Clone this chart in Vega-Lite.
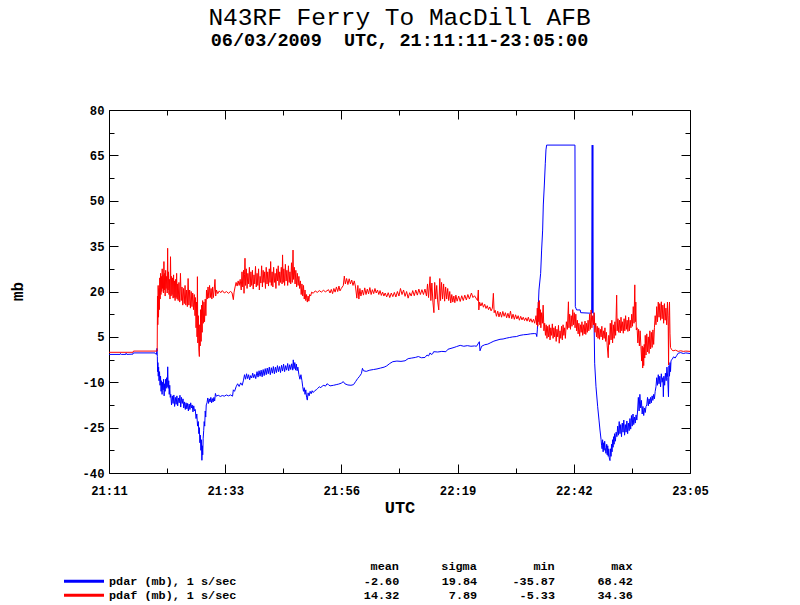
{
  "$schema": "https://vega.github.io/schema/vega-lite/v6.json",
  "width": 581,
  "height": 363,
  "autosize": {"type": "none"},
  "padding": {"left": 109, "top": 110, "right": 110, "bottom": 132},
  "background": "white",
  "title": {
    "text": "N43RF Ferry To MacDill AFB",
    "subtitle": "06/03/2009\u00a0\u00a0UTC, 21:11:11-23:05:00",
    "anchor": "middle",
    "font": "Liberation Mono",
    "fontSize": 24.5,
    "fontWeight": "normal",
    "color": "black",
    "subtitleFont": "Liberation Mono",
    "subtitleFontSize": 18.5,
    "subtitleFontWeight": "bold",
    "subtitleColor": "black",
    "subtitlePadding": 0,
    "offset": 54
  },
  "datasets": {
    "pdar": [
      {"t":0,"v":-0.8},{"t":2.2,"v":-0.8},{"t":2.25,"v":-0.5},{"t":2.4,"v":-0.8},{"t":3.3,"v":-0.8},{"t":3.35,"v":-0.4},{"t":3.5,"v":-0.8},{"t":4.7,"v":-0.7},{"t":4.75,"v":-0.3},{"t":9,"v":-0.3},{"t":9.1,"v":-0.6},{"t":9.3,"v":-0.8},{"t":9.4,"v":1.2},{"t":9.47,"v":-1.5},{"t":9.52,"v":-6.5},{"t":9.58,"v":-3.5},{"t":9.65,"v":-8},{"t":9.72,"v":-5},{"t":9.8,"v":-9.5},{"t":9.9,"v":-6.5},
      {"t":10,"v":-11},{"t":10.1,"v":-8},{"t":10.2,"v":-13},{"t":10.3,"v":-9.5},{"t":10.4,"v":-14},{"t":10.5,"v":-10},{"t":10.6,"v":-12.5},{"t":10.7,"v":-9},{"t":10.8,"v":-14.5},{"t":10.9,"v":-10.5},{"t":11,"v":-13},{"t":11.1,"v":-9},{"t":11.2,"v":-12},{"t":11.3,"v":-8.5},{"t":11.4,"v":-11.5},{"t":11.5,"v":-4.9},{"t":11.6,"v":-12},{"t":11.7,"v":-9.5},{"t":11.8,"v":-14},{"t":11.9,"v":-11},{"t":12,"v":-15},
      {"t":12.1,"v":-14},{"t":12.25,"v":-17.5},{"t":12.4,"v":-14.5},{"t":12.55,"v":-17},{"t":12.7,"v":-14.2},{"t":12.85,"v":-18},{"t":13,"v":-15},{"t":13.15,"v":-17.3},{"t":13.3,"v":-14.5},{"t":13.45,"v":-17.8},{"t":13.6,"v":-15.2},{"t":13.75,"v":-16.8},{"t":13.9,"v":-14.3},{"t":14.05,"v":-18.2},{"t":14.2,"v":-15},{"t":14.35,"v":-17},{"t":14.5,"v":-15.5},
      {"t":14.65,"v":-18.5},{"t":14.8,"v":-16.5},{"t":14.95,"v":-19},{"t":15.1,"v":-16.8},{"t":15.25,"v":-18.8},{"t":15.4,"v":-17},{"t":15.55,"v":-19.5},{"t":15.7,"v":-17.2},{"t":15.85,"v":-19},{"t":16,"v":-16.8},{"t":16.15,"v":-18.5},{"t":16.3,"v":-17.5},{"t":16.45,"v":-19.8},{"t":16.6,"v":-17.8},{"t":16.75,"v":-19.5},
      {"t":16.9,"v":-19},{"t":17.05,"v":-22},{"t":17.2,"v":-20.5},{"t":17.35,"v":-24.5},{"t":17.5,"v":-23},{"t":17.6,"v":-27},{"t":17.7,"v":-25},{"t":17.8,"v":-30},{"t":17.9,"v":-27.5},{"t":18,"v":-32.5},{"t":18.1,"v":-29},{"t":18.2,"v":-35.8},{"t":18.28,"v":-31},{"t":18.36,"v":-34},{"t":18.45,"v":-28.5},{"t":18.55,"v":-26},{"t":18.65,"v":-23},{"t":18.75,"v":-24.5},{"t":18.85,"v":-19.5},{"t":18.95,"v":-21.5},{"t":19.05,"v":-17.5},
      {"t":19.2,"v":-16.8},{"t":19.35,"v":-15.2},{"t":19.5,"v":-17},{"t":19.65,"v":-15.5},{"t":19.8,"v":-16.5},{"t":19.95,"v":-15},{"t":20.1,"v":-16.8},{"t":20.25,"v":-15.4},{"t":20.4,"v":-16.5},{"t":20.55,"v":-15},{"t":20.7,"v":-16.2},{"t":20.85,"v":-13.7},{"t":21,"v":-14.6},{"t":21.4,"v":-14.3},{"t":21.8,"v":-14.7},{"t":22.2,"v":-14.4},{"t":22.6,"v":-14.6},{"t":23,"v":-14.2},{"t":23.4,"v":-14.5},{"t":23.8,"v":-14.2},{"t":24.2,"v":-14.6},
      {"t":24.36,"v":-12.5},{"t":24.6,"v":-13},{"t":24.9,"v":-11.5},{"t":25.2,"v":-10.5},{"t":25.5,"v":-11.4},{"t":25.8,"v":-10.2},{"t":26.1,"v":-11},{"t":26.35,"v":-9.3},{"t":26.55,"v":-7.5},{"t":26.75,"v":-9},{"t":26.95,"v":-7.2},{"t":27.15,"v":-8.8},{"t":27.35,"v":-7.5},{"t":27.55,"v":-9.2},{"t":27.75,"v":-7.8},{"t":27.95,"v":-8.6},{"t":28.15,"v":-7},{"t":28.35,"v":-8.5},{"t":28.55,"v":-7.4},{"t":28.75,"v":-8.8},
      {"t":29,"v":-6.5},{"t":29.2,"v":-8.3},{"t":29.4,"v":-6.2},{"t":29.6,"v":-8},{"t":29.8,"v":-6},{"t":30,"v":-8.2},{"t":30.2,"v":-5.8},{"t":30.4,"v":-7.8},{"t":30.6,"v":-5.5},{"t":30.8,"v":-7.5},{"t":31,"v":-5.3},{"t":31.2,"v":-7.2},{"t":31.4,"v":-5},{"t":31.6,"v":-7.5},{"t":31.8,"v":-5.2},{"t":32,"v":-7},{"t":32.2,"v":-4.8},{"t":32.4,"v":-7.2},{"t":32.6,"v":-5},{"t":32.8,"v":-6.8},
      {"t":33,"v":-4.5},{"t":33.2,"v":-6.5},{"t":33.4,"v":-4.8},{"t":33.6,"v":-6.8},{"t":33.8,"v":-4.4},{"t":34,"v":-6.3},{"t":34.2,"v":-4},{"t":34.4,"v":-6.5},{"t":34.6,"v":-4.5},{"t":34.8,"v":-6},{"t":35,"v":-3.8},{"t":35.2,"v":-6.2},{"t":35.4,"v":-4.2},{"t":35.6,"v":-5.8},{"t":35.8,"v":-3.9},{"t":36,"v":-6},{"t":36.1,"v":-2.6},{"t":36.25,"v":-5.5},{"t":36.4,"v":-3.5},{"t":36.55,"v":-6},{"t":36.7,"v":-4},{"t":36.85,"v":-6.2},
      {"t":37,"v":-5},{"t":37.2,"v":-7.5},{"t":37.4,"v":-9},{"t":37.6,"v":-7.5},{"t":37.8,"v":-9.5},{"t":37.95,"v":-11.5},{"t":38.1,"v":-13},{"t":38.25,"v":-11.8},{"t":38.4,"v":-14},{"t":38.55,"v":-12.5},{"t":38.7,"v":-15},{"t":38.85,"v":-15.9},{"t":39,"v":-13.5},{"t":39.2,"v":-14.5},{"t":39.4,"v":-13},{"t":39.6,"v":-13.8},{"t":39.8,"v":-12.8},{"t":40,"v":-13.4},{"t":40.3,"v":-12.8},{"t":40.6,"v":-12.5},
      {"t":40.9,"v":-12},{"t":41.2,"v":-11.5},{"t":41.5,"v":-11.8},{"t":41.8,"v":-11.2},{"t":42.1,"v":-11},{"t":42.4,"v":-11.3},{"t":42.7,"v":-10.5},{"t":43,"v":-10.8},{"t":43.3,"v":-11.2},{"t":44,"v":-11},{"t":44.5,"v":-10.8},{"t":45,"v":-10.6},{"t":45.5,"v":-10.3},{"t":45.9,"v":-9.8},{"t":46.2,"v":-10.5},{"t":46.8,"v":-10.9},{"t":47.4,"v":-11},{"t":47.9,"v":-10.8},{"t":48.3,"v":-9.8},{"t":48.7,"v":-8.8},{"t":49.1,"v":-8},{"t":49.45,"v":-7.1},{"t":49.65,"v":-5.4},{"t":49.85,"v":-6.2},
      {"t":50.4,"v":-6.4},{"t":51.1,"v":-6},{"t":51.8,"v":-5.8},{"t":52.5,"v":-5.6},{"t":53.2,"v":-5.3},{"t":53.9,"v":-5},{"t":54.4,"v":-4.6},{"t":55,"v":-3.8},{"t":55.6,"v":-3.2},{"t":56.4,"v":-3},{"t":57.2,"v":-3.1},{"t":58,"v":-2.9},{"t":58.6,"v":-2.2},{"t":59.3,"v":-2},{"t":60,"v":-1.8},{"t":60.6,"v":-1.5},{"t":61.2,"v":-1.9},{"t":61.9,"v":-1.8},{"t":62.3,"v":-1},{"t":62.6,"v":-1.3},{"t":62.9,"v":-0.3},{"t":63.1,"v":-0.8},{"t":63.4,"v":-0.6},{"t":63.6,"v":0.1},
      {"t":64.4,"v":0},{"t":65.2,"v":0.2},{"t":66,"v":0.1},{"t":66.4,"v":0.9},{"t":67,"v":1.2},{"t":67.6,"v":1.5},{"t":68.1,"v":1.8},{"t":68.8,"v":2.2},{"t":69.5,"v":1.9},{"t":70.2,"v":2.1},{"t":70.9,"v":1.9},{"t":71.6,"v":2},{"t":72,"v":1.9},{"t":72.55,"v":3.4},{"t":72.68,"v":0.4},{"t":73,"v":1.9},{"t":73.6,"v":2.4},{"t":74.2,"v":2.6},{"t":74.8,"v":3.1},{"t":75.4,"v":3.6},{"t":76,"v":3.9},{"t":76.6,"v":4.2},{"t":77.2,"v":4.3},{"t":77.9,"v":4.6},
      {"t":78.5,"v":4.8},{"t":79.1,"v":5},{"t":79.8,"v":5.1},{"t":80.5,"v":5.5},{"t":81.2,"v":5.7},{"t":81.9,"v":5.8},{"t":82.6,"v":6},{"t":83.3,"v":6.1},{"t":83.7,"v":6},{"t":83.8,"v":5.1},{"t":83.91,"v":7.3},{"t":84.23,"v":20.5},{"t":84.56,"v":26},{"t":84.75,"v":33.7},{"t":84.95,"v":40.3},{"t":85.08,"v":48.6},{"t":85.28,"v":55.2},{"t":85.47,"v":62.4},{"t":85.6,"v":66.8},{"t":85.73,"v":68.4},
      {"t":91.28,"v":68.4},{"t":91.35,"v":15},{"t":91.6,"v":13.9},{"t":92.3,"v":13.9},{"t":92.4,"v":13},{"t":94.55,"v":12.8},{"t":94.66,"v":68.4},{"t":94.72,"v":13},{"t":94.78,"v":68.4},{"t":94.85,"v":12.8},{"t":95,"v":12.5},{"t":95.14,"v":-3.7},{"t":95.4,"v":-11.5},{"t":95.73,"v":-18.1},{"t":95.99,"v":-22.5},{"t":96.18,"v":-25.8},{"t":96.4,"v":-29},{"t":96.5,"v":-31},
      {"t":96.6,"v":-32},{"t":96.7,"v":-29},{"t":96.8,"v":-33},{"t":96.9,"v":-30},{"t":97,"v":-32.5},{"t":97.1,"v":-29.5},{"t":97.2,"v":-31.5},{"t":97.35,"v":-33.5},{"t":97.5,"v":-30.5},{"t":97.6,"v":-34},{"t":97.7,"v":-31},{"t":97.8,"v":-34.5},{"t":97.9,"v":-32},{"t":98,"v":-35},{"t":98.14,"v":-35.9},{"t":98.25,"v":-32},{"t":98.35,"v":-34.5},{"t":98.45,"v":-30.5},{"t":98.55,"v":-33},{"t":98.65,"v":-29},{"t":98.75,"v":-31.5},{"t":98.85,"v":-28},{"t":98.95,"v":-30.5},{"t":99.05,"v":-27},{"t":99.2,"v":-29.5},{"t":99.35,"v":-26.5},
      {"t":99.5,"v":-28},{"t":99.65,"v":-24.5},{"t":99.8,"v":-27.5},{"t":99.95,"v":-23},{"t":100.1,"v":-27},{"t":100.25,"v":-24},{"t":100.4,"v":-28},{"t":100.55,"v":-23.5},{"t":100.7,"v":-26.5},{"t":100.85,"v":-22.5},{"t":101,"v":-27.5},{"t":101.15,"v":-24},{"t":101.3,"v":-26.5},{"t":101.45,"v":-22.8},{"t":101.6,"v":-27},{"t":101.75,"v":-23.5},{"t":101.9,"v":-26},
      {"t":102.05,"v":-22},{"t":102.2,"v":-25.5},{"t":102.35,"v":-21},{"t":102.5,"v":-24.5},{"t":102.65,"v":-20.5},{"t":102.8,"v":-24},{"t":102.95,"v":-21.5},{"t":103.1,"v":-23.5},{"t":103.25,"v":-20.8},{"t":103.4,"v":-22.5},{"t":103.55,"v":-19.5},{"t":103.7,"v":-15},{"t":103.85,"v":-19.5},{"t":104,"v":-14},{"t":104.15,"v":-18.5},{"t":104.3,"v":-16},
      {"t":104.45,"v":-20.5},{"t":104.6,"v":-18},{"t":104.75,"v":-21},{"t":104.9,"v":-18.5},{"t":105.05,"v":-20},{"t":105.2,"v":-18},{"t":105.35,"v":-17.5},{"t":105.5,"v":-15},{"t":105.65,"v":-17.8},{"t":105.8,"v":-15.5},{"t":105.95,"v":-17.2},{"t":106.1,"v":-15},{"t":106.25,"v":-16.8},{"t":106.4,"v":-14.5},{"t":106.55,"v":-16},{"t":106.7,"v":-14},{"t":106.85,"v":-15.5},{"t":107,"v":-13},
      {"t":107.15,"v":-11.5},{"t":107.3,"v":-8.5},{"t":107.45,"v":-11},{"t":107.6,"v":-7.5},{"t":107.75,"v":-10.5},{"t":107.9,"v":-8},{"t":108.05,"v":-11.5},{"t":108.2,"v":-7.2},{"t":108.35,"v":-10},{"t":108.5,"v":-8.5},{"t":108.6,"v":-14.8},{"t":108.7,"v":-8},{"t":108.85,"v":-11},{"t":109,"v":-7},{"t":109.15,"v":-9.5},{"t":109.3,"v":-5},{"t":109.45,"v":-8.5},{"t":109.6,"v":-14.8},{"t":109.7,"v":-4.5},{"t":109.8,"v":-8},{"t":109.9,"v":-3.5},{"t":110,"v":-6.5},{"t":110.1,"v":-2.8},
      {"t":110.3,"v":-2.5},{"t":110.6,"v":-1.6},{"t":110.9,"v":-2},{"t":111.2,"v":-1.2},{"t":111.5,"v":-0.4},{"t":112,"v":-0.2},{"t":112.5,"v":-0.5},{"t":113,"v":-0.3},{"t":113.8167,"v":-0.5}
    ],
    "pdaf": [
      {"t":0,"v":-0.1},{"t":4.7,"v":-0.1},{"t":4.8,"v":0.3},{"t":9.44,"v":0.3},{"t":9.5,"v":18.5},{"t":9.56,"v":9},{"t":9.63,"v":22},{"t":9.7,"v":11.5},{"t":9.78,"v":21},{"t":9.86,"v":14},{"t":9.94,"v":24.5},{"t":10.02,"v":17.5},{"t":10.1,"v":26},{"t":10.18,"v":19},{"t":10.26,"v":25},{"t":10.34,"v":20},{"t":10.42,"v":27.5},{"t":10.5,"v":21},{"t":10.58,"v":25.5},{"t":10.66,"v":19.5},{"t":10.76,"v":29.9},{"t":10.84,"v":20.5},{"t":10.92,"v":26},
      {"t":11,"v":18.5},{"t":11.1,"v":27},{"t":11.18,"v":21},{"t":11.3,"v":25},{"t":11.4,"v":19.5},{"t":11.49,"v":34.3},{"t":11.56,"v":20.5},{"t":11.65,"v":26.5},{"t":11.75,"v":19},{"t":11.85,"v":24},{"t":11.95,"v":17.5},{"t":12.05,"v":31.5},{"t":12.15,"v":18.5},{"t":12.25,"v":25},{"t":12.35,"v":19},{"t":12.45,"v":24.5},{"t":12.55,"v":17.8},{"t":12.65,"v":25.5},{"t":12.75,"v":18},{"t":12.85,"v":23.5},{"t":12.95,"v":17},
      {"t":13.05,"v":24},{"t":13.15,"v":18},{"t":13.25,"v":26},{"t":13.35,"v":17.5},{"t":13.45,"v":22.5},{"t":13.55,"v":17},{"t":13.7,"v":23},{"t":13.85,"v":16.5},{"t":14,"v":26},{"t":14.15,"v":17},{"t":14.3,"v":21.5},{"t":14.45,"v":15.5},{"t":14.6,"v":21},{"t":14.75,"v":16},{"t":14.9,"v":22},{"t":15.05,"v":15.5},{"t":15.2,"v":20.5},{"t":15.35,"v":15},{"t":15.5,"v":24.3},{"t":15.65,"v":15.5},{"t":15.8,"v":20.5},{"t":15.95,"v":14.5},{"t":16.1,"v":20},{"t":16.25,"v":15},{"t":16.4,"v":19.5},{"t":16.55,"v":14},{"t":16.7,"v":19},
      {"t":16.85,"v":12},{"t":16.95,"v":18},{"t":17.05,"v":8},{"t":17.15,"v":16.5},{"t":17.25,"v":5},{"t":17.32,"v":24.9},{"t":17.4,"v":3},{"t":17.5,"v":12},{"t":17.6,"v":1},{"t":17.7,"v":-1.5},{"t":17.78,"v":9},{"t":17.86,"v":2},{"t":17.95,"v":14},{"t":18.05,"v":3.5},{"t":18.15,"v":15.5},{"t":18.25,"v":6.5},{"t":18.35,"v":17},{"t":18.48,"v":9.5},{"t":18.6,"v":16.5},{"t":18.72,"v":10},{"t":18.85,"v":17.5},{"t":18.98,"v":12},{"t":19.1,"v":20.5},
      {"t":19.25,"v":17.5},{"t":19.4,"v":21.5},{"t":19.55,"v":17.8},{"t":19.7,"v":22},{"t":19.85,"v":18},{"t":20,"v":21},{"t":20.15,"v":17.5},{"t":20.3,"v":21.5},{"t":20.45,"v":18},{"t":20.6,"v":20.5},{"t":20.76,"v":24},{"t":20.9,"v":18.5},{"t":21.05,"v":20.5},{"t":21.3,"v":19.3},{"t":21.6,"v":20.2},{"t":21.9,"v":19.6},{"t":22.2,"v":20.3},{"t":22.6,"v":19.5},{"t":23,"v":20},{"t":23.4,"v":19.4},{"t":23.8,"v":20},{"t":24.1,"v":19.6},{"t":24.36,"v":17.3},{"t":24.5,"v":19.8},
      {"t":24.7,"v":21.5},{"t":24.9,"v":23},{"t":25.1,"v":21.8},{"t":25.3,"v":23.5},{"t":25.5,"v":22},{"t":25.7,"v":24},{"t":25.9,"v":20.5},{"t":26.05,"v":26.5},{"t":26.2,"v":21.5},{"t":26.35,"v":27},{"t":26.45,"v":19.4},{"t":26.55,"v":25.5},{"t":26.64,"v":31},{"t":26.75,"v":22},{"t":26.9,"v":27.5},{"t":27.05,"v":21},{"t":27.2,"v":26},{"t":27.35,"v":22.5},{"t":27.5,"v":28},{"t":27.65,"v":21.5},{"t":27.8,"v":26.5},{"t":27.95,"v":22},
      {"t":28.1,"v":27},{"t":28.25,"v":20.8},{"t":28.4,"v":25.5},{"t":28.55,"v":22.5},{"t":28.7,"v":28.3},{"t":28.85,"v":21.5},{"t":29,"v":26},{"t":29.15,"v":22},{"t":29.3,"v":27.5},{"t":29.45,"v":20.5},{"t":29.6,"v":25},{"t":29.75,"v":22.8},{"t":29.9,"v":28.5},{"t":30.05,"v":21.5},{"t":30.2,"v":27},{"t":30.35,"v":23},{"t":30.5,"v":26.5},{"t":30.65,"v":21},{"t":30.8,"v":28},{"t":30.95,"v":22.5},
      {"t":31.1,"v":26.5},{"t":31.25,"v":21.8},{"t":31.4,"v":27.5},{"t":31.55,"v":23},{"t":31.67,"v":29.9},{"t":31.8,"v":22},{"t":31.95,"v":26.5},{"t":32.1,"v":21.5},{"t":32.25,"v":28},{"t":32.4,"v":23},{"t":32.55,"v":26},{"t":32.7,"v":21},{"t":32.85,"v":27.5},{"t":33,"v":23.5},{"t":33.15,"v":28.5},{"t":33.3,"v":22},{"t":33.45,"v":26.5},{"t":33.6,"v":23},{"t":33.75,"v":28},{"t":33.9,"v":22.5},
      {"t":34,"v":32.1},{"t":34.12,"v":23},{"t":34.25,"v":27.5},{"t":34.4,"v":22},{"t":34.55,"v":29},{"t":34.7,"v":23.5},{"t":34.85,"v":27},{"t":35,"v":22},{"t":35.15,"v":28.5},{"t":35.3,"v":23},{"t":35.45,"v":26.5},{"t":35.6,"v":22.5},{"t":35.75,"v":29.5},{"t":35.9,"v":23},{"t":36.05,"v":33.7},{"t":36.15,"v":24},{"t":36.3,"v":28},{"t":36.45,"v":22.5},{"t":36.6,"v":27},{"t":36.75,"v":21.5},{"t":36.9,"v":26},{"t":37.05,"v":22},{"t":37.2,"v":25},{"t":37.35,"v":21},
      {"t":37.5,"v":23.5},{"t":37.65,"v":19},{"t":37.8,"v":22.5},{"t":37.95,"v":18.5},{"t":38.1,"v":22},{"t":38.25,"v":17.5},{"t":38.4,"v":20.5},{"t":38.55,"v":17},{"t":38.7,"v":19},{"t":38.85,"v":16.5},{"t":39,"v":18.5},{"t":39.15,"v":16.8},{"t":39.3,"v":19},{"t":39.5,"v":18.5},{"t":39.7,"v":19.8},{"t":40,"v":19.4},{"t":40.4,"v":20.2},{"t":40.8,"v":19.7},{"t":41.2,"v":20.3},{"t":41.6,"v":19.8},{"t":42,"v":20.4},{"t":42.4,"v":19.9},{"t":43,"v":20.6},
      {"t":43.3,"v":19.5},{"t":43.55,"v":20.7},{"t":43.8,"v":19.3},{"t":44.05,"v":21},{"t":44.3,"v":19.8},{"t":44.55,"v":21.5},{"t":44.8,"v":20},{"t":45.05,"v":21.8},{"t":45.25,"v":20.2},{"t":45.5,"v":21},{"t":45.9,"v":22},{"t":46.1,"v":25.1},{"t":46.3,"v":22.5},{"t":46.55,"v":24.3},{"t":46.8,"v":22.3},{"t":47.05,"v":24.2},{"t":47.3,"v":22.5},{"t":47.55,"v":23.8},{"t":47.8,"v":22},{"t":48.05,"v":23.5},{"t":48.3,"v":21.5},
      {"t":48.55,"v":17.8},{"t":48.75,"v":22},{"t":48.95,"v":17.5},{"t":49.15,"v":21},{"t":49.35,"v":18.5},{"t":49.6,"v":20.5},{"t":49.85,"v":18.8},{"t":50.1,"v":21.2},{"t":50.35,"v":19},{"t":50.6,"v":20.8},{"t":50.85,"v":19.2},{"t":51.1,"v":21.3},{"t":51.35,"v":19},{"t":51.6,"v":20.6},{"t":51.85,"v":19.3},{"t":52.1,"v":21},{"t":52.35,"v":19.5},{"t":52.6,"v":20.5},{"t":52.85,"v":19},{"t":53.1,"v":20.3},{"t":53.35,"v":18.7},{"t":53.6,"v":19.8},{"t":53.85,"v":18.5},{"t":54.1,"v":19.5},
      {"t":54.4,"v":18.2},{"t":54.7,"v":19.6},{"t":55,"v":18},{"t":55.3,"v":19.5},{"t":55.6,"v":18.3},{"t":55.9,"v":19.7},{"t":56.2,"v":18.2},{"t":56.5,"v":20},{"t":56.8,"v":18.5},{"t":57.1,"v":21},{"t":57.4,"v":19},{"t":57.7,"v":20.5},{"t":58,"v":18.4},{"t":58.3,"v":20},{"t":58.6,"v":17.8},{"t":58.9,"v":19.6},{"t":59.2,"v":18.5},{"t":59.5,"v":20.3},{"t":59.8,"v":18.6},{"t":60.1,"v":20.5},{"t":60.4,"v":18.8},{"t":60.7,"v":20.8},{"t":61,"v":19},{"t":61.3,"v":20.6},{"t":61.6,"v":19},{"t":61.9,"v":20.8},
      {"t":62.2,"v":18.5},{"t":62.4,"v":22.5},{"t":62.6,"v":18},{"t":62.9,"v":24.9},{"t":63.05,"v":17},{"t":63.25,"v":22.8},{"t":63.45,"v":16.5},{"t":63.65,"v":13},{"t":63.8,"v":23},{"t":64,"v":17.5},{"t":64.2,"v":22},{"t":64.4,"v":16.5},{"t":64.6,"v":13.9},{"t":64.8,"v":24.3},{"t":64.95,"v":17},{"t":65.15,"v":23},{"t":65.35,"v":17.5},{"t":65.55,"v":22.5},{"t":65.75,"v":16.8},{"t":65.95,"v":21.5},{"t":66.15,"v":17.5},{"t":66.35,"v":21},{"t":66.55,"v":17},{"t":66.75,"v":20},
      {"t":66.95,"v":16.2},{"t":67.15,"v":19},{"t":67.35,"v":16.5},{"t":67.55,"v":18.5},{"t":67.75,"v":16.3},{"t":67.95,"v":18.8},{"t":68.2,"v":16.8},{"t":68.5,"v":18.5},{"t":68.8,"v":16.7},{"t":69.1,"v":18.6},{"t":69.4,"v":17},{"t":69.7,"v":18.8},{"t":70,"v":17.2},{"t":70.3,"v":19},{"t":70.6,"v":17.5},{"t":71,"v":19.5},{"t":71.3,"v":18},{"t":71.6,"v":18.6},{"t":71.9,"v":17.8},
      {"t":72.2,"v":17},{"t":72.35,"v":20.5},{"t":72.45,"v":13.9},{"t":72.6,"v":16.5},{"t":72.85,"v":15.2},{"t":73.1,"v":16.3},{"t":73.35,"v":14.8},{"t":73.6,"v":15.8},{"t":73.85,"v":14.4},{"t":74.1,"v":15.3},{"t":74.35,"v":14},{"t":74.6,"v":14.9},{"t":74.85,"v":13.6},{"t":75.1,"v":14.5},{"t":75.3,"v":19.4},{"t":75.45,"v":13},
      {"t":75.65,"v":13.8},{"t":75.9,"v":11.8},{"t":76.15,"v":13.5},{"t":76.4,"v":11.6},{"t":76.65,"v":13.2},{"t":76.9,"v":11.5},{"t":77.15,"v":13.4},{"t":77.4,"v":11.8},{"t":77.65,"v":13},{"t":77.9,"v":11.3},{"t":78.15,"v":12.8},{"t":78.4,"v":11.2},{"t":78.65,"v":13.5},{"t":78.9,"v":11},{"t":79.15,"v":12.5},{"t":79.4,"v":10.8},{"t":79.65,"v":12.3},{"t":79.9,"v":10.9},
      {"t":80.15,"v":12},{"t":80.4,"v":10.5},{"t":80.65,"v":11.8},{"t":80.9,"v":10.6},{"t":81.15,"v":11.5},{"t":81.4,"v":10.4},{"t":81.65,"v":11.3},{"t":81.9,"v":10.2},{"t":82.15,"v":11.5},{"t":82.4,"v":10},{"t":82.65,"v":11},{"t":82.9,"v":9.8},{"t":83.15,"v":10.8},{"t":83.4,"v":9.5},
      {"t":83.65,"v":12},{"t":83.8,"v":9},{"t":83.9,"v":14.5},{"t":84,"v":8.5},{"t":84.1,"v":16.5},{"t":84.2,"v":10},{"t":84.3,"v":17},{"t":84.4,"v":9},{"t":84.5,"v":14},{"t":84.6,"v":8},{"t":84.75,"v":13},{"t":84.9,"v":9.5},{"t":85.05,"v":15.5},
      {"t":85.2,"v":7},{"t":85.35,"v":9.5},{"t":85.5,"v":5.5},{"t":85.65,"v":9},{"t":85.8,"v":4.5},{"t":85.95,"v":8.5},{"t":86.1,"v":5},{"t":86.25,"v":9},{"t":86.4,"v":4},{"t":86.55,"v":8},{"t":86.7,"v":5.5},{"t":86.85,"v":9.3},
      {"t":87,"v":4.5},{"t":87.15,"v":8},{"t":87.3,"v":5},{"t":87.45,"v":8.5},{"t":87.6,"v":3.5},{"t":87.75,"v":7.5},{"t":87.9,"v":5},{"t":88.05,"v":8.8},{"t":88.2,"v":2.9},{"t":88.35,"v":7},{"t":88.5,"v":4.5},{"t":88.65,"v":8.5},{"t":88.8,"v":4},{"t":88.95,"v":9},{"t":89.1,"v":5.5},{"t":89.25,"v":8},{"t":89.4,"v":4.5},
      {"t":89.6,"v":10},{"t":89.8,"v":7.5},{"t":90,"v":16.6},{"t":90.1,"v":8},{"t":90.25,"v":12.5},{"t":90.4,"v":7.5},{"t":90.55,"v":12},{"t":90.7,"v":8.5},{"t":90.85,"v":14},{"t":91,"v":9},{"t":91.15,"v":13},{"t":91.3,"v":8},{"t":91.45,"v":12.5},
      {"t":91.6,"v":7},{"t":91.75,"v":10.5},{"t":91.9,"v":6},{"t":92.05,"v":9.5},{"t":92.2,"v":5.2},{"t":92.35,"v":9},{"t":92.5,"v":6.5},{"t":92.65,"v":10},{"t":92.8,"v":5.5},{"t":92.95,"v":9},{"t":93.1,"v":6},{"t":93.25,"v":10.2},{"t":93.4,"v":5.8},{"t":93.55,"v":9.5},{"t":93.7,"v":6.5},{"t":93.85,"v":10.5},{"t":94,"v":7},
      {"t":94.15,"v":12.5},{"t":94.3,"v":7.5},{"t":94.45,"v":13.9},{"t":94.6,"v":8},{"t":94.75,"v":12},{"t":94.9,"v":9},{"t":95.05,"v":13},
      {"t":95.2,"v":6.5},{"t":95.35,"v":9.5},{"t":95.5,"v":5},{"t":95.65,"v":8.5},{"t":95.8,"v":4.5},{"t":95.95,"v":8},{"t":96.1,"v":4.2},{"t":96.25,"v":7.5},{"t":96.4,"v":5},{"t":96.55,"v":8.5},{"t":96.7,"v":4},{"t":96.85,"v":7},{"t":97,"v":4.5},{"t":97.15,"v":8},{"t":97.3,"v":3.5},
      {"t":97.45,"v":6.5},{"t":97.6,"v":2},{"t":97.8,"v":-1.9},{"t":97.9,"v":5.5},{"t":98.05,"v":2.5},{"t":98.2,"v":9.5},{"t":98.35,"v":4},{"t":98.5,"v":10.5},{"t":98.65,"v":3},{"t":98.8,"v":9},{"t":98.95,"v":4.5},{"t":99.1,"v":10},{"t":99.25,"v":5.5},{"t":99.45,"v":18.8},{"t":99.55,"v":7},
      {"t":99.7,"v":11},{"t":99.85,"v":6.5},{"t":100,"v":10.5},{"t":100.15,"v":6.3},{"t":100.3,"v":11.5},{"t":100.45,"v":7},{"t":100.6,"v":10},{"t":100.75,"v":6.2},{"t":100.9,"v":11},{"t":101.05,"v":7},{"t":101.2,"v":12},{"t":101.35,"v":7.5},{"t":101.5,"v":10.5},{"t":101.65,"v":6.8},{"t":101.8,"v":11.5},{"t":101.95,"v":7},{"t":102.1,"v":10.5},{"t":102.25,"v":8},{"t":102.4,"v":12.5},{"t":102.55,"v":8.5},
      {"t":102.7,"v":15},{"t":102.85,"v":9.5},{"t":103,"v":22.2},{"t":103.1,"v":10},{"t":103.2,"v":16.5},{"t":103.3,"v":7.3},{"t":103.45,"v":8},{"t":103.6,"v":3},{"t":103.75,"v":7.5},{"t":103.9,"v":2},{"t":104.05,"v":7},{"t":104.2,"v":1.8},
      {"t":104.35,"v":-3},{"t":104.45,"v":2},{"t":104.55,"v":-5.3},{"t":104.65,"v":1.5},{"t":104.75,"v":-4.5},{"t":104.85,"v":2.5},{"t":104.95,"v":-2},{"t":105.05,"v":5.5},{"t":105.2,"v":-1},{"t":105.35,"v":6},{"t":105.5,"v":0},{"t":105.65,"v":5},{"t":105.8,"v":-0.5},{"t":105.95,"v":7},{"t":106.1,"v":1},{"t":106.25,"v":6.5},{"t":106.4,"v":1.5},{"t":106.55,"v":7.3},{"t":106.7,"v":2.5},{"t":106.85,"v":8},
      {"t":107,"v":12},{"t":107.15,"v":9},{"t":107.3,"v":15},{"t":107.45,"v":10},{"t":107.6,"v":16.5},{"t":107.75,"v":11.5},{"t":107.9,"v":16},{"t":108.05,"v":10.5},{"t":108.2,"v":16.6},{"t":108.35,"v":11},{"t":108.5,"v":15.5},{"t":108.65,"v":9.5},{"t":108.8,"v":16},{"t":108.95,"v":10.5},{"t":109.1,"v":14.5},{"t":109.25,"v":9},{"t":109.4,"v":16.5},{"t":109.55,"v":8.5},
      {"t":109.62,"v":-4.3},{"t":109.7,"v":12},{"t":109.8,"v":16.5},{"t":109.9,"v":6},{"t":110,"v":1.5},{"t":110.2,"v":0.8},{"t":110.5,"v":0.4},{"t":111,"v":0.6},{"t":111.5,"v":0.2},{"t":112,"v":0.4},{"t":112.5,"v":0.2},{"t":113,"v":0.3},{"t":113.8167,"v":0.2}
    ]
  },
  "layer": [
    {
      "data": {"name": "pdar"},
      "mark": {"type": "line", "strokeWidth": 1},
      "encoding": {
        "x": {
          "field": "t",
          "type": "quantitative",
          "scale": {"domain": [0, 113.8167], "nice": false, "zero": false},
          "axis": {
            "orient": "bottom",
            "values": [0, 22.7633, 45.5267, 68.29, 91.0533, 113.8167],
            "labelExpr": "floor((1271.1833 + datum.value + 0.01) / 60) + ':' + format(floor((1271.1833 + datum.value + 0.01) % 60), '02d')",
            "ticks": false,
            "labelPadding": 11,
            "labelFontSize": 12.2,
            "labelFlush": false,
            "labelOverlap": false,
            "title": "UTC",
            "titleFontSize": 17,
            "titlePadding": 3
          }
        },
        "y": {
          "field": "v",
          "type": "quantitative",
          "scale": {"domain": [-40, 80], "nice": false, "zero": false},
          "axis": {
            "orient": "left",
            "values": [-40, -25, -10, 5, 20, 35, 50, 65, 80],
            "labelExpr": "'' + datum.value",
            "ticks": false,
            "labelPadding": 5,
            "labelFontSize": 12.2,
            "title": "mb",
            "titleFontSize": 16,
            "titleAngle": -90,
            "titleX": -92,
            "titleY": 181,
            "titleAlign": "center",
            "titleBaseline": "middle"
          }
        },
        "color": {
          "datum": "pdar",
          "type": "nominal",
          "scale": {"domain": ["pdar", "pdaf"], "range": ["#0000ff", "#ff0000"]},
          "legend": {
            "orient": "none",
            "legendX": -31.5,
            "legendY": 451,
            "direction": "vertical",
            "padding": 0,
            "title": "mean\u00a0\u00a0\u00a0\u00a0\u00a0\u00a0sigma\u00a0\u00a0\u00a0\u00a0\u00a0\u00a0\u00a0\u00a0min\u00a0\u00a0\u00a0\u00a0\u00a0\u00a0\u00a0\u00a0max",
            "titleAnchor": "end",
            "titleAlign": "right",
            "titleFont": "Liberation Mono",
            "titleFontSize": 11.8,
            "titleFontWeight": "bold",
            "titleColor": "black",
            "titlePadding": 2,
            "titleLimit": 700,
            "labelFont": "Liberation Mono",
            "labelFontSize": 11.8,
            "labelFontWeight": "bold",
            "labelColor": "black",
            "labelLimit": 700,
            "labelOffset": 18.5,
            "rowPadding": 0,
            "symbolType": "M-4,0H4",
            "symbolSize": 100,
            "symbolStrokeWidth": 3,
            "labelExpr": "datum.label == 'pdar' ? 'pdar (mb), 1 s/sec\u00a0\u00a0\u00a0\u00a0\u00a0\u00a0\u00a0\u00a0\u00a0\u00a0\u00a0\u00a0\u00a0\u00a0\u00a0\u00a0\u00a0\u00a0-2.60\u00a0\u00a0\u00a0\u00a0\u00a0\u00a019.84\u00a0\u00a0\u00a0\u00a0\u00a0-35.87\u00a0\u00a0\u00a0\u00a0\u00a0\u00a068.42' : 'pdaf (mb), 1 s/sec\u00a0\u00a0\u00a0\u00a0\u00a0\u00a0\u00a0\u00a0\u00a0\u00a0\u00a0\u00a0\u00a0\u00a0\u00a0\u00a0\u00a0\u00a014.32\u00a0\u00a0\u00a0\u00a0\u00a0\u00a0\u00a07.89\u00a0\u00a0\u00a0\u00a0\u00a0\u00a0-5.33\u00a0\u00a0\u00a0\u00a0\u00a0\u00a034.36'"
          }
        }
      }
    },
    {
      "data": {"name": "pdaf"},
      "mark": {"type": "line", "strokeWidth": 1},
      "encoding": {
        "x": {
          "field": "t",
          "type": "quantitative",
          "axis": {
            "orient": "bottom",
            "values": [0, 11.3817, 22.7633, 34.145, 45.5267, 56.9083, 68.29, 79.6717, 91.0533, 102.435, 113.8167],
            "labels": false,
            "title": null,
            "tickSize": {"condition": {"test": "round(datum.value / 11.3817) % 2 === 0", "value": -9}, "value": -5}
          }
        },
        "y": {
          "field": "v",
          "type": "quantitative",
          "axis": {
            "orient": "left",
            "values": [-40, -32.5, -25, -17.5, -10, -2.5, 5, 12.5, 20, 27.5, 35, 42.5, 50, 57.5, 65, 72.5, 80],
            "labels": false,
            "title": null,
            "tickSize": {"condition": {"test": "(datum.value + 40) % 15 === 0", "value": -9}, "value": -5}
          }
        },
        "color": {"datum": "pdaf", "type": "nominal"}
      }
    },
    {
      "data": {"values": [{"t": 0, "v": 0}]},
      "mark": {"type": "point", "opacity": 0},
      "encoding": {
        "x": {
          "field": "t",
          "type": "quantitative",
          "axis": {
            "orient": "top",
            "values": [0, 11.3817, 22.7633, 34.145, 45.5267, 56.9083, 68.29, 79.6717, 91.0533, 102.435, 113.8167],
            "labels": false,
            "title": null,
            "tickSize": {"condition": {"test": "round(datum.value / 11.3817) % 2 === 0", "value": -9}, "value": -5}
          }
        },
        "y": {
          "field": "v",
          "type": "quantitative",
          "axis": {
            "orient": "right",
            "values": [-40, -32.5, -25, -17.5, -10, -2.5, 5, 12.5, 20, 27.5, 35, 42.5, 50, 57.5, 65, 72.5, 80],
            "labels": false,
            "title": null,
            "tickSize": {"condition": {"test": "(datum.value + 40) % 15 === 0", "value": -9}, "value": -5}
          }
        }
      }
    }
  ],
  "resolve": {"axis": {"x": "independent", "y": "independent"}},
  "config": {
    "view": {"stroke": "black", "strokeWidth": 1},
    "axis": {
      "grid": false,
      "domain": false,
      "tickColor": "black",
      "tickWidth": 1,
      "labelFont": "Liberation Mono",
      "labelFontSize": 11.8,
      "labelFontWeight": "bold",
      "labelColor": "black",
      "titleFont": "Liberation Mono",
      "titleFontWeight": "bold",
      "titleColor": "black"
    }
  }
}
